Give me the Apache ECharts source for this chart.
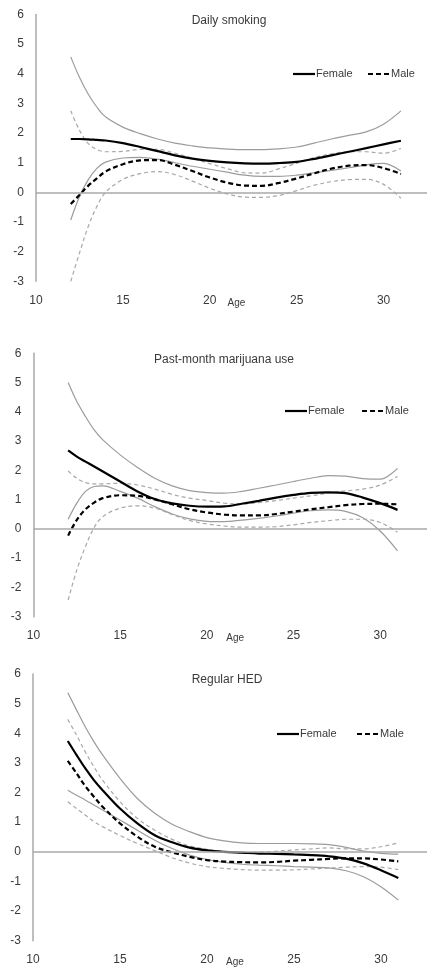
<!DOCTYPE html>
<html>
<head>
<meta charset="utf-8">
<script src="https://cdn.jsdelivr.net/npm/echarts@6/dist/echarts.min.js"></script>
<style>
html,body{margin:0;padding:0;background:#fff;}
#chart{width:430px;height:971px;}
</style>
</head>
<body>
<div id="chart"></div>
<script>
// Ages at which the curves were sampled
const ages = [12,12.5,13,13.5,14,15,16,17,18,19,20,21,22,23,24,25,26,27,28,29,30,31];

// Panel titles, legend names and tick labels
const panelTitles = ['Daily smoking','Past-month marijuana use','Regular HED'];
const legendNames = ['Female','Male'];
const xTicks = [10,15,20,25,30];
const yTicks = [-3,-2,-1,0,1,2,3,4,5,6];

// Daily smoking
const smokeFemale      = [1.80,1.80,1.79,1.77,1.75,1.66,1.53,1.39,1.25,1.14,1.06,1.01,0.98,0.97,0.99,1.03,1.13,1.25,1.37,1.49,1.62,1.74];
const smokeFemaleUpper = [4.57,3.88,3.32,2.88,2.55,2.20,1.98,1.80,1.66,1.57,1.50,1.46,1.44,1.44,1.47,1.53,1.66,1.80,1.92,2.04,2.30,2.75];
const smokeFemaleLower = [-0.93,-0.15,0.42,0.81,1.02,1.16,1.18,1.12,1.00,0.88,0.78,0.68,0.58,0.54,0.54,0.58,0.66,0.74,0.83,0.93,0.98,0.72];
const smokeMale        = [-0.39,-0.09,0.22,0.47,0.70,0.95,1.08,1.09,0.93,0.72,0.50,0.33,0.23,0.22,0.32,0.47,0.64,0.80,0.90,0.92,0.82,0.62];
const smokeMaleUpper   = [2.75,2.10,1.65,1.45,1.37,1.38,1.45,1.45,1.32,1.15,0.97,0.80,0.66,0.65,0.80,0.98,1.17,1.30,1.37,1.37,1.32,1.48];
const smokeMaleLower   = [-3.00,-2.05,-1.16,-0.48,0.00,0.44,0.63,0.70,0.60,0.38,0.14,-0.05,-0.16,-0.17,-0.10,0.06,0.24,0.36,0.43,0.44,0.27,-0.20];

// Past-month marijuana use
const mjFemale      = [2.68,2.47,2.30,2.13,1.96,1.62,1.28,1.02,0.87,0.79,0.76,0.77,0.86,0.96,1.07,1.16,1.23,1.25,1.22,1.07,0.88,0.65];
const mjFemaleUpper = [5.00,4.35,3.84,3.38,3.04,2.53,2.10,1.73,1.47,1.31,1.24,1.22,1.28,1.39,1.50,1.62,1.73,1.82,1.80,1.72,1.70,2.07];
const mjFemaleLower = [0.33,0.88,1.28,1.45,1.47,1.28,1.05,0.76,0.51,0.34,0.26,0.25,0.30,0.36,0.44,0.54,0.62,0.65,0.60,0.38,-0.07,-0.75];
const mjMale        = [-0.23,0.31,0.67,0.90,1.05,1.15,1.13,1.01,0.84,0.67,0.56,0.49,0.46,0.46,0.51,0.59,0.67,0.74,0.81,0.85,0.86,0.84];
const mjMaleUpper   = [1.98,1.73,1.58,1.54,1.54,1.56,1.50,1.36,1.18,1.05,0.97,0.88,0.85,0.90,0.97,1.05,1.13,1.22,1.30,1.36,1.50,1.79];
const mjMaleLower   = [-2.43,-1.40,-0.60,0.05,0.42,0.71,0.79,0.71,0.49,0.29,0.17,0.10,0.06,0.06,0.08,0.14,0.22,0.28,0.33,0.33,0.22,-0.11];

// Regular HED
const hedFemale      = [3.74,3.27,2.82,2.42,2.08,1.46,0.96,0.56,0.32,0.14,0.05,0.00,-0.03,-0.06,-0.07,-0.09,-0.11,-0.15,-0.23,-0.39,-0.62,-0.88];
const hedFemaleUpper = [5.37,4.79,4.22,3.72,3.27,2.48,1.80,1.30,0.93,0.68,0.48,0.37,0.30,0.28,0.28,0.28,0.27,0.24,0.15,0.02,-0.05,-0.08];
const hedFemaleLower = [2.08,1.91,1.75,1.58,1.41,1.07,0.73,0.39,0.11,-0.11,-0.26,-0.36,-0.42,-0.45,-0.47,-0.50,-0.52,-0.54,-0.64,-0.84,-1.18,-1.63];
const hedMale        = [3.07,2.65,2.22,1.86,1.52,0.96,0.51,0.17,-0.02,-0.17,-0.28,-0.33,-0.35,-0.36,-0.34,-0.30,-0.27,-0.24,-0.22,-0.22,-0.26,-0.32];
const hedMaleUpper   = [4.47,3.94,3.38,2.87,2.42,1.69,1.13,0.73,0.42,0.20,0.08,0.00,-0.03,-0.01,0.02,0.06,0.10,0.13,0.10,0.10,0.17,0.30];
const hedMaleLower   = [1.69,1.46,1.24,1.02,0.85,0.55,0.28,0.04,-0.20,-0.38,-0.50,-0.56,-0.60,-0.62,-0.62,-0.61,-0.58,-0.55,-0.52,-0.50,-0.52,-0.60];

const panels = [
  {f: smokeFemale, fu: smokeFemaleUpper, fl: smokeFemaleLower, m: smokeMale, mu: smokeMaleUpper, ml: smokeMaleLower},
  {f: mjFemale, fu: mjFemaleUpper, fl: mjFemaleLower, m: mjMale, mu: mjMaleUpper, ml: mjMaleLower},
  {f: hedFemale, fu: hedFemaleUpper, fl: hedFemaleLower, m: hedMale, mu: hedMaleUpper, ml: hedMaleLower}
];

// Layout (pixels)
const layout = [
  {left: 36,   top: 14.5,  width: 394,   height: 266.8, xmax: 32.5,  titleX: 229, titleY: 21,
   legY: 74,  legF: 293, legM: 368},
  {left: 33.5, top: 353.3, width: 396.5, height: 263.4, xmax: 32.7,  titleX: 224, titleY: 360,
   legY: 411, legF: 285, legM: 362},
  {left: 33,   top: 674,   width: 397,   height: 266.7, xmax: 32.65, titleX: 227, titleY: 680,
   legY: 734, legF: 277, legM: 357}
];

const FONT = 'Liberation Sans, Arial, sans-serif';
const TEXT = '#3a3a3a';
const GREY = '#9c9c9c';
const EST_DASH = [5, 3];
const CI_DASH = [4, 3];

const grids = [], xAxes = [], yAxes = [], series = [], graphics = [];

function mk(name, gi, vals, color, width, type, z) {
  return {
    type: 'line', name: name, xAxisIndex: gi, yAxisIndex: gi,
    data: ages.map((a, i) => [a, vals[i]]),
    symbol: 'none', showSymbol: false, smooth: 0.35,
    lineStyle: {color: color, width: width, type: type},
    itemStyle: {color: color},
    emphasis: {disabled: true},
    silent: true, animation: false, z: z
  };
}

function legendItem(x, y, label, dash) {
  graphics.push({
    type: 'line', silent: true,
    shape: {x1: x, y1: y, x2: x + 22, y2: y},
    style: {stroke: '#000', lineWidth: 2.2, lineDash: dash}
  });
  graphics.push({
    type: 'text', x: x + 23, y: y, silent: true,
    style: {text: label, align: 'left', verticalAlign: 'middle',
            fontSize: 11, fontFamily: FONT, fill: TEXT}
  });
}

layout.forEach((L, gi) => {
  grids.push({left: L.left, top: L.top, width: L.width, height: L.height, containLabel: false});
  xAxes.push({
    type: 'value', gridIndex: gi, min: 10, max: L.xmax, interval: 5,
    axisLine: {show: false}, axisTick: {show: false}, splitLine: {show: false},
    axisLabel: {
      color: TEXT, fontSize: 12, fontFamily: FONT, margin: 13,
      formatter: v => (xTicks.indexOf(v) >= 0 ? String(v) : '')
    },
    name: 'Age', nameLocation: 'middle', nameGap: 17, nameMoveOverlap: false,
    nameTextStyle: {color: TEXT, fontSize: 10, fontFamily: FONT, padding: [0, 0, 0, 10]}
  });
  yAxes.push({
    type: 'value', gridIndex: gi, min: yTicks[0], max: yTicks[yTicks.length - 1], interval: 1,
    axisLine: {show: true, onZero: false, lineStyle: {color: '#a8a8a8', width: 1.5}},
    axisTick: {show: false}, splitLine: {show: false},
    axisLabel: {color: TEXT, fontSize: 12, fontFamily: FONT, margin: 12}
  });
  const P = panels[gi];
  const zeroLine = mk('zero' + gi, gi, ages.map(() => null), GREY, 1, 'solid', 1);
  zeroLine.markLine = {
    silent: true, symbol: ['none', 'none'], label: {show: false}, animation: false,
    lineStyle: {color: '#a8a8a8', width: 1.5, type: 'solid'},
    data: [{yAxis: 0}]
  };
  series.push(zeroLine);
  series.push(mk('Female upper', gi, P.fu, GREY, 1.2, 'solid', 2));
  series.push(mk('Female lower', gi, P.fl, GREY, 1.2, 'solid', 2));
  series.push(mk('Male upper', gi, P.mu, '#a8a8a8', 1.2, CI_DASH, 2));
  series.push(mk('Male lower', gi, P.ml, '#a8a8a8', 1.2, CI_DASH, 2));
  series.push(mk(legendNames[0], gi, P.f, '#000', 2.2, 'solid', 3));
  series.push(mk(legendNames[1], gi, P.m, '#000', 2.2, EST_DASH, 3));

  legendItem(L.legF, L.legY, legendNames[0], null);
  legendItem(L.legM, L.legY, legendNames[1], EST_DASH);
  graphics.push({
    type: 'text', x: L.titleX, y: L.titleY, silent: true,
    style: {text: panelTitles[gi], align: 'center', verticalAlign: 'middle',
            fontSize: 12, fontFamily: FONT, fill: TEXT}
  });
});

const chart = echarts.init(document.getElementById('chart'), null, {renderer: 'canvas'});
chart.setOption({
  backgroundColor: '#fff',
  animation: false,
  grid: grids, xAxis: xAxes, yAxis: yAxes,
  series: series, graphic: graphics
});
</script>
</body>
</html>
